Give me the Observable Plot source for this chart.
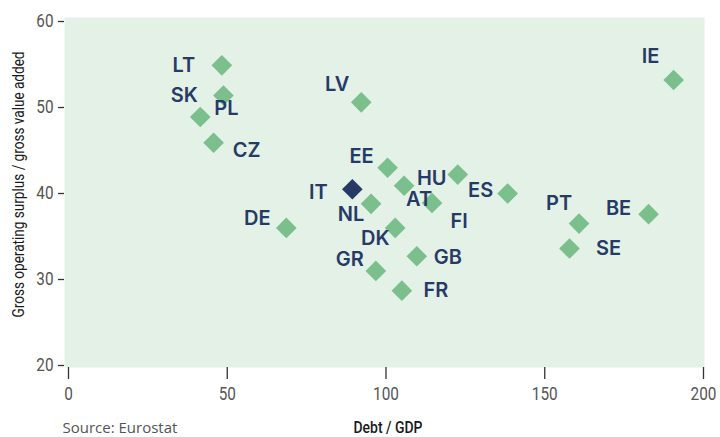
<!DOCTYPE html>
<html>
<head>
<meta charset="utf-8">
<script src="https://cdn.jsdelivr.net/npm/d3@7"></script>
<script src="https://cdn.jsdelivr.net/npm/@observablehq/plot@0.6"></script>
<style>
  body { margin: 0; background: #fff; }
  #chart svg { display: block; }
</style>
</head>
<body>
<div id="chart"></div>
<script>
// ---- data ----
const countries = ["LT","PL","SK","CZ","LV","IT","EE","NL","DE","GR","AT","FI","HU","ES","DK","GB","FR","IE","PT","BE","SE"];
const debtToGdp = [48.3,48.8,41.5,45.7,92.2,89.4,100.5,95.3,68.6,96.8,105.7,114.5,122.6,138.3,102.9,109.7,105.0,190.6,160.8,182.7,157.8];
const surplusToGva = [54.9,51.4,48.9,45.9,50.6,40.5,43.0,38.8,36.0,31.0,40.9,38.9,42.2,40.0,36.0,32.7,28.7,53.2,36.5,37.6,33.6];
const highlighted = ["IT"];
const xTicks = [0, 50, 100, 150, 200];
const yTicks = [20, 30, 40, 50, 60];
const xTitle = "Debt / GDP";
const yTitle = "Gross operating surplus / gross value added";
const sourceText = "Source: Eurostat";

// ---- label placement (pixel offsets from the marker) ----
const labelOffset = {
  LT: [-38, 0], PL: [3, 13], SK: [-16, -21], CZ: [33, 8], LV: [-24, -18],
  IT: [-34, 3], EE: [-26, -11], NL: [-20, 11], DE: [-29, -9], GR: [-26, -11],
  AT: [15, 14], FI: [27, 19], HU: [-26, 4], ES: [-27, -3], DK: [-20, 11],
  GB: [31, 1], FR: [34, 0], IE: [-23, -23], PT: [-20, -20], BE: [-30, -6], SE: [39, 0]
};

const data = countries.map((c, i) => ({country: c, debt: debtToGdp[i], surplus: surplusToGva[i]}));

const navy = "#263a66";
const green = "#7bbf8c";
const panel = "#e3f1e7";
const axisFont = "Roboto, 'Liberation Sans', sans-serif";
const labelFont = "Inter, 'Open Sans', sans-serif";

const labelMarks = data.map(d => Plot.text([d], {
  x: "debt", y: "surplus", text: "country",
  dx: labelOffset[d.country][0], dy: labelOffset[d.country][1],
  fill: navy, fontSize: 20, fontWeight: 600, fontFamily: labelFont,
  textAnchor: "middle", lineAnchor: "middle"
}));

const chart = Plot.plot({
  width: 720,
  height: 437,
  marginLeft: 64,
  marginRight: 16,
  marginTop: 17,
  marginBottom: 70,
  style: {background: "#fff", overflow: "visible", fontFamily: axisFont},
  x: {domain: [0, 200], insetLeft: 4, insetRight: 1},
  y: {domain: [20, 60], insetTop: 4, insetBottom: 2},
  marks: [
    Plot.frame({fill: panel, stroke: "none"}),
    Plot.axisX({ticks: xTicks, tickSize: 12, tickPadding: 8, label: null,
      fontSize: 18, fill: "#555", stroke: "#333", strokeWidth: 1.3, fontFamily: axisFont}),
    Plot.axisY({ticks: yTicks, tickSize: 6, tickPadding: 5, label: null,
      fontSize: 18, fill: "#555", stroke: "#333", strokeWidth: 1.3, fontFamily: axisFont}),
    Plot.dot(data.filter(d => !highlighted.includes(d.country)), {
      x: "debt", y: "surplus", symbol: "diamond2", r: 9.3, fill: green, stroke: "none"
    }),
    Plot.dot(data.filter(d => highlighted.includes(d.country)), {
      x: "debt", y: "surplus", symbol: "diamond2", r: 9.3, fill: navy, stroke: "none"
    }),
    ...labelMarks,
    Plot.text([xTitle], {frameAnchor: "bottom", textAnchor: "start", dx: -31, dy: 60, lineAnchor: "middle",
      fontSize: 16, fill: "#1a1a1a", fontFamily: axisFont, fontWeight: 500}),
    Plot.text([yTitle], {frameAnchor: "left", rotate: -90, textAnchor: "start", dx: -46, dy: 125, lineAnchor: "middle",
      fontSize: 16, fill: "#1a1a1a", fontFamily: axisFont}),
    Plot.text([sourceText], {frameAnchor: "bottom-left", textAnchor: "start", dx: -2, dy: 61,
      lineAnchor: "middle", fontSize: 15, fill: "#555", fontFamily: "'Open Sans', sans-serif"})
  ]
});

// condensed look: narrow the axis texts horizontally (no condensed face installed)
const svg = d3.select(chart);
svg.selectAll('g[aria-label="x-axis tick label"] text, g[aria-label="y-axis tick label"] text')
  .each(function() {
    const t = this.getAttribute("transform") || "";
    this.setAttribute("transform", t + " scale(0.85,1)");
  });
svg.selectAll("text").each(function() {
  if (this.textContent === yTitle) {
    this.setAttribute("textLength", 266);
    this.setAttribute("lengthAdjust", "spacingAndGlyphs");
  } else if (this.textContent === xTitle) {
    this.setAttribute("textLength", 69);
    this.setAttribute("lengthAdjust", "spacingAndGlyphs");
  }
});

document.getElementById("chart").append(chart);
</script>
</body>
</html>
